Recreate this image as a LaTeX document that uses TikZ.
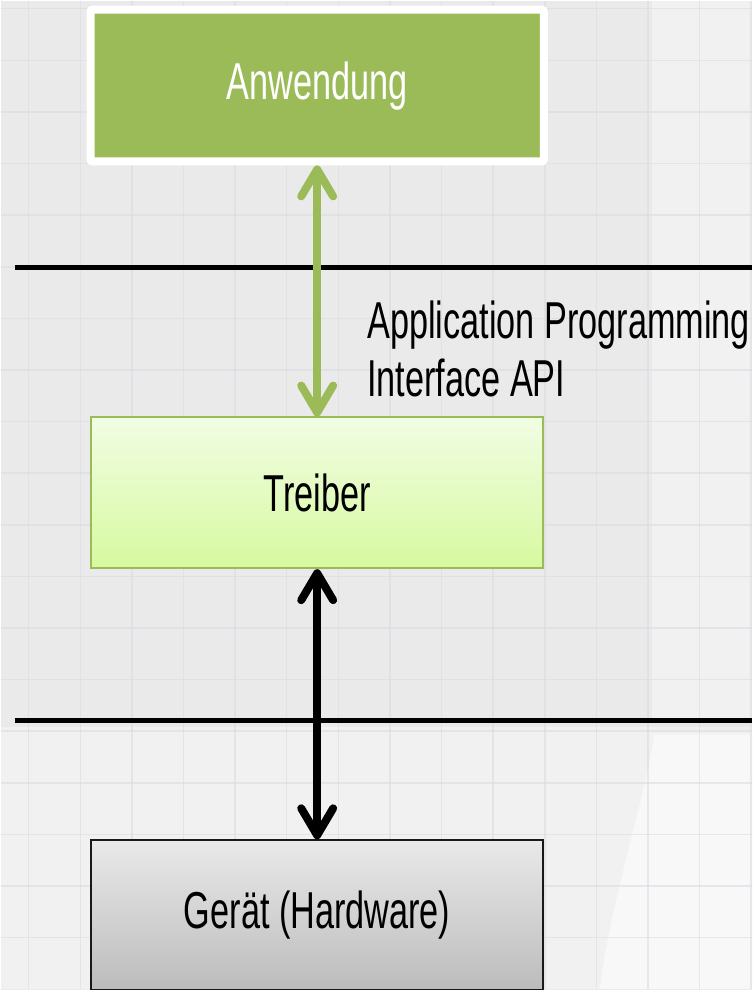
\documentclass[tikz,border=0pt]{standalone}
\usepackage{fontspec}
\setmainfont[FakeStretch=0.66]{Liberation Sans}
\usetikzlibrary{arrows.meta}
\definecolor{bggray}{HTML}{EAEAEA}
\definecolor{bglight}{HTML}{F1F1F1}
\definecolor{bgwhite}{HTML}{F8F8F8}
\definecolor{gridc}{HTML}{D9D9E1}
\definecolor{appgreen}{HTML}{9BBB59}
\definecolor{drvtop}{HTML}{F1FDE3}
\definecolor{drvbot}{HTML}{D7F9A0}
\definecolor{hwtop}{HTML}{E9E9E9}
\definecolor{hwbot}{HTML}{BCBCBC}
\tikzset{
  boxtext/.style={font=\fontsize{52}{58}\selectfont},
  layerbox/.style={rectangle, inner sep=0pt, minimum width=453pt, minimum height=151pt, boxtext},
  biarrow/.style={line width=8pt, {Straight Barb[length=27pt,width=32pt,round]}-{Straight Barb[length=27pt,width=32pt,round]}},
  layerline/.style={line width=5pt, black},
}
\begin{document}
\begin{tikzpicture}[x=1pt,y=-1pt]
% background
\fill[bggray] (0,0) rectangle (753,990);
\fill[bglight] (652,0) rectangle (753,722);
\fill[bglight] (0,728) rectangle (753,990);
\fill[bgwhite] (655,735) .. controls (640,820) and (612,900) .. (600,990) -- (753,990) -- (753,735) -- cycle;
\foreach \i in {0,...,14} {
  \draw[gridc, line width=1.5pt, opacity=0.55] (28+\i*51.7,0) -- (28+\i*51.7,990);
}
\foreach \j in {0,...,19} {
  \draw[gridc, line width=1.5pt, opacity=0.55] (0,8+\j*51.7) -- (753,8+\j*51.7);
}
\useasboundingbox (0,0) rectangle (753,990);

% layer separators
\coordinate (l1a) at (14,267);
\coordinate (l1b) at (753,267);
\coordinate (l2a) at (14,721);
\coordinate (l2b) at (753,721);
\draw[layerline] (l1a) -- (l1b);
\draw[layerline] (l2a) -- (l2b);

% boxes
\node[layerbox, minimum width=454pt, minimum height=152pt, fill=appgreen, draw=white, line width=8pt, rounded corners=2pt, text=white] (app) at (317,85) {Anwendung};
\node[layerbox, draw=appgreen, line width=2pt, top color=drvtop, bottom color=drvbot] (drv) at (317,493) {Treiber};
\node[layerbox, minimum height=150pt, draw=black!90, line width=2pt, top color=hwtop, bottom color=hwbot] (hw) at (317,916) {Gerät (Hardware)};

% connectors
\draw[biarrow, appgreen] (app.south) -- (drv.north);
\draw[biarrow, black] (drv.south) -- (hw.north);

% label
\node[boxtext, anchor=base west, align=left, inner sep=0pt] (api) at (367,396) {Application Programming\\Interface API};
\end{tikzpicture}
\end{document}
